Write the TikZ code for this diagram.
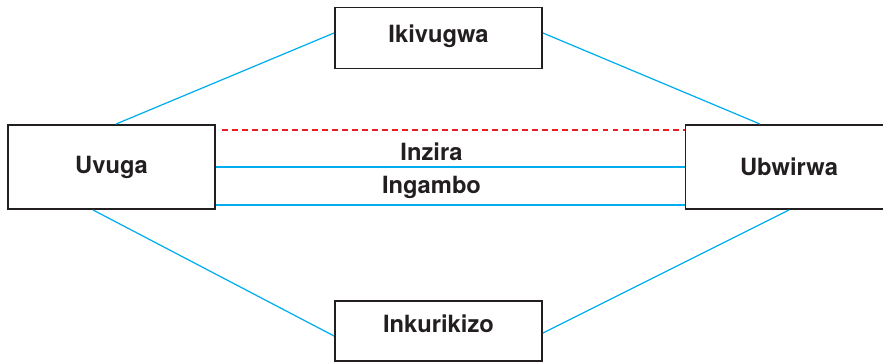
\documentclass[tikz,border=0pt]{standalone}
\usepackage{fontspec}
\setmainfont{TeX Gyre Heros}
\definecolor{boxline}{RGB}{35,31,32}
\definecolor{linkblue}{RGB}{0,174,239}
\definecolor{linkred}{RGB}{237,28,36}
\begin{document}
\begin{tikzpicture}[x=0.02cm,y=-0.02cm]
\tikzset{
  partbox/.style={draw=boxline,line width=1.1pt,fill=white,text=boxline,
    font=\fontsize{13.5}{16}\selectfont\bfseries,inner sep=0pt},
  sidebox/.style={partbox,minimum width=4.14cm,minimum height=1.68cm},
  midbox/.style={partbox,minimum width=4.14cm,minimum height=1.22cm},
  bluelink/.style={draw=linkblue,line width=0.7pt},
  redlink/.style={draw=linkred,line width=0.7pt,dash pattern=on 3.4pt off 2.3pt},
  linklabel/.style={text=boxline,font=\fontsize{13.5}{16}\selectfont\bfseries},
}
\useasboundingbox (0,0) rectangle (883,364);
% boxes
\node[sidebox] (uvuga) at (111.5,167) {Uvuga};
\node[sidebox] (ubwirwa) at (789,167) {Ubwirwa};
\node[midbox,text depth=0.16cm] (ikivugwa) at (438.5,38) {Ikivugwa};
\node[midbox,minimum height=1.2cm,text depth=0.3cm] (inkurikizo) at (438.5,331) {Inkurikizo};
% diagonal links
\draw[bluelink] ([xshift=0.09cm]uvuga.north) -- ([yshift=0.1cm]ikivugwa.west);
\draw[bluelink] ([yshift=0.1cm]ikivugwa.east) -- ([xshift=-0.58cm]ubwirwa.north);
\draw[bluelink] ([xshift=-0.37cm]uvuga.south) -- ([yshift=-0.1cm]inkurikizo.west);
\draw[bluelink] ([yshift=-0.04cm]inkurikizo.east) -- (ubwirwa.south);
% straight links
\draw[redlink] ([xshift=0.12cm,yshift=-0.12cm]uvuga.north east)
  -- ([yshift=-0.12cm]ubwirwa.north west);
\draw[bluelink] (uvuga.east) -- (ubwirwa.west)
  node[linklabel,pos=0.46,above] (inzira) {Inzira};
\draw[bluelink] ([yshift=0.1cm]uvuga.south east) -- ([yshift=0.1cm]ubwirwa.south west)
  node[linklabel,pos=0.46,above] (ingambo) {Ingambo};
\end{tikzpicture}
\end{document}
